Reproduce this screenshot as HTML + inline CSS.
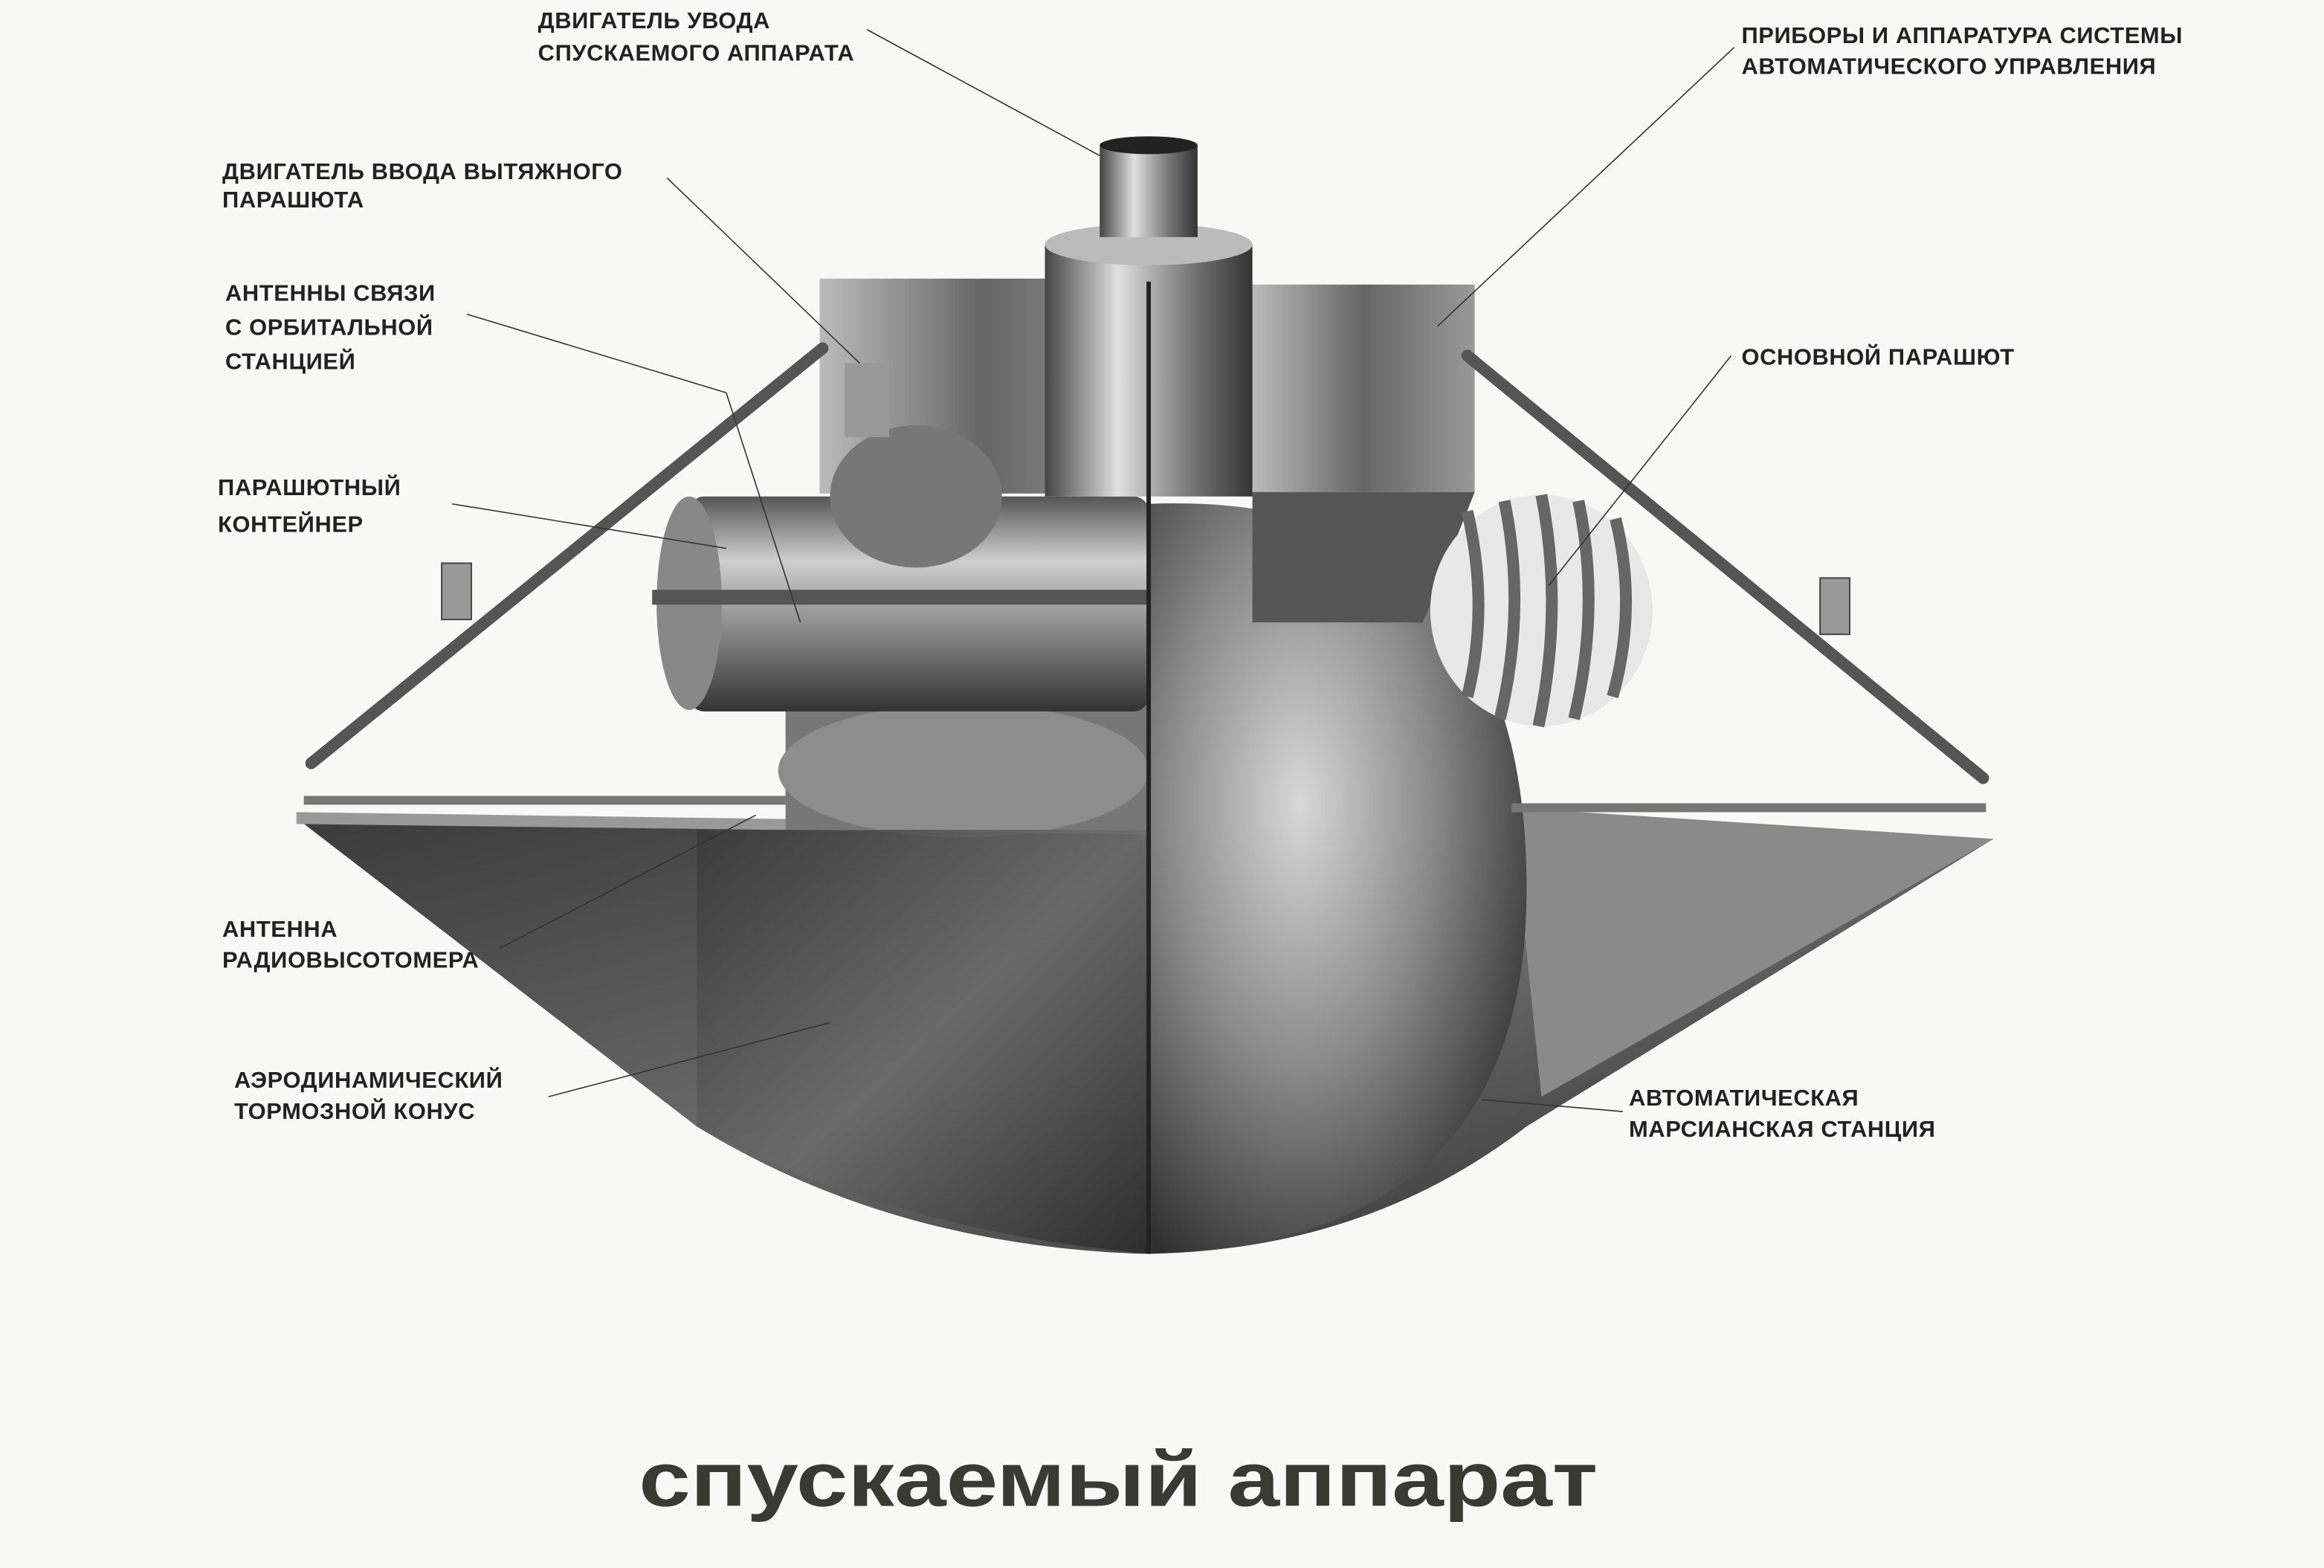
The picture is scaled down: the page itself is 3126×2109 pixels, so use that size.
<!DOCTYPE html>
<html><head><meta charset="utf-8"><style>
html,body{margin:0;padding:0;background:#f8f8f6;}
svg{display:block;}
text{font-family:"Liberation Sans",sans-serif;fill:#222;}
.l{font-size:15.5px;letter-spacing:0.3px;font-weight:bold;}
.ln{stroke:#333;stroke-width:0.8;fill:none;}
</style></head><body>
<svg width="3126" height="2109" viewBox="0 0 1568 1058" preserveAspectRatio="none" xmlns="http://www.w3.org/2000/svg">
<defs>
<linearGradient id="cone" x1="0" y1="0" x2="1" y2="1"><stop offset="0" stop-color="#3a3a3a"/><stop offset="0.5" stop-color="#6a6a6a"/><stop offset="1" stop-color="#2a2a2a"/></linearGradient>
<radialGradient id="sph" cx="0.4" cy="0.4" r="0.7"><stop offset="0" stop-color="#d8d8d8"/><stop offset="0.5" stop-color="#8a8a8a"/><stop offset="1" stop-color="#2f2f2f"/></radialGradient>
<linearGradient id="cyl" x1="0" y1="0" x2="0" y2="1"><stop offset="0" stop-color="#555"/><stop offset="0.3" stop-color="#cfcfcf"/><stop offset="0.7" stop-color="#777"/><stop offset="1" stop-color="#333"/></linearGradient>
<linearGradient id="vcyl" x1="0" y1="0" x2="1" y2="0"><stop offset="0" stop-color="#444"/><stop offset="0.35" stop-color="#e0e0e0"/><stop offset="0.7" stop-color="#777"/><stop offset="1" stop-color="#333"/></linearGradient>
<linearGradient id="box" x1="0" y1="0" x2="1" y2="0"><stop offset="0" stop-color="#bbb"/><stop offset="0.5" stop-color="#666"/><stop offset="1" stop-color="#999"/></linearGradient>
</defs>
<rect width="1568" height="1058" fill="#f8f8f6"/>
<path d="M200,552 L1345,566 L1030,760 Q920,845 770,846 Q600,840 470,760 Z" fill="url(#cone)"/>
<path d="M1020,545 L1345,566 L1040,740 Z" fill="#8a8a8a"/>
<path d="M200,548 L775,556 L775,563 L200,556 Z" fill="#999"/>
<path d="M775,340 Q1030,330 1030,600 Q1030,840 775,846 Z" fill="url(#sph)"/>
<rect x="530" y="470" width="245" height="90" fill="#777"/>
<ellipse cx="650" cy="520" rx="125" ry="45" fill="#8d8d8d"/>
<path d="M470,560 L775,560 L775,846 Q600,830 470,760 Z" fill="url(#cone)" opacity="0.9"/>
<rect x="465" y="335" width="310" height="145" rx="10" fill="url(#cyl)"/>
<ellipse cx="465" cy="407" rx="22" ry="72" fill="#888"/>
<rect x="440" y="398" width="335" height="10" fill="#555"/>
<rect x="553" y="188" width="222" height="145" fill="url(#box)"/>
<rect x="845" y="192" width="150" height="140" fill="url(#box)"/>
<path d="M845,332 L995,332 L960,420 L845,420 Z" fill="#555"/>
<rect x="705" y="165" width="140" height="170" fill="url(#vcyl)"/>
<ellipse cx="775" cy="165" rx="70" ry="14" fill="#bbb"/>
<rect x="742" y="98" width="66" height="62" fill="url(#vcyl)"/>
<ellipse cx="775" cy="98" rx="33" ry="6" fill="#222"/>
<line x1="775" y1="190" x2="775" y2="846" stroke="#222" stroke-width="3"/>
<ellipse cx="618" cy="335" rx="58" ry="48" fill="#777"/>
<rect x="570" y="245" width="30" height="50" fill="#999"/>
<g stroke="#555" stroke-width="8" stroke-linecap="round"><line x1="210" y1="515" x2="555" y2="235"/><line x1="1338" y1="525" x2="990" y2="240"/></g>
<g stroke="#777" stroke-width="6"><line x1="205" y1="540" x2="530" y2="540"/><line x1="1020" y1="545" x2="1340" y2="545"/></g>
<rect x="298" y="380" width="20" height="38" fill="#999" stroke="#444"/>
<rect x="1228" y="390" width="20" height="38" fill="#999" stroke="#444"/>
<ellipse cx="1040" cy="412" rx="75" ry="78" fill="#e8e8e8"/>
<g stroke="#666" stroke-width="8" fill="none"><path d="M990,345 Q1005,410 990,470"/><path d="M1015,338 Q1030,410 1012,485"/><path d="M1040,334 Q1055,410 1038,490"/><path d="M1065,338 Q1080,410 1062,485"/><path d="M1090,350 Q1105,410 1088,470"/></g>
<g class="ln">
<line x1="585" y1="20" x2="742" y2="105"/>
<line x1="450" y1="120" x2="580" y2="245"/>
<line x1="315" y1="212" x2="490" y2="265"/>
<line x1="490" y1="265" x2="540" y2="420"/>
<line x1="305" y1="340" x2="490" y2="370"/>
<line x1="1170" y1="32" x2="970" y2="220"/>
<line x1="1168" y1="240" x2="1045" y2="395"/>
<line x1="337" y1="640" x2="510" y2="550"/>
<line x1="370" y1="740" x2="560" y2="690"/>
<line x1="1095" y1="750" x2="1000" y2="742"/>
</g>
<text class="l" x="363" y="19">ДВИГАТЕЛЬ УВОДА</text>
<text class="l" x="363" y="41">СПУСКАЕМОГО АППАРАТА</text>
<text class="l" x="150" y="121">ДВИГАТЕЛЬ ВВОДА ВЫТЯЖНОГО</text>
<text class="l" x="150" y="140">ПАРАШЮТА</text>
<text class="l" x="152" y="203">АНТЕННЫ СВЯЗИ</text>
<text class="l" x="152" y="226">С ОРБИТАЛЬНОЙ</text>
<text class="l" x="152" y="249">СТАНЦИЕЙ</text>
<text class="l" x="147" y="334">ПАРАШЮТНЫЙ</text>
<text class="l" x="147" y="359">КОНТЕЙНЕР</text>
<text class="l" x="1175" y="29">ПРИБОРЫ И АППАРАТУРА СИСТЕМЫ</text>
<text class="l" x="1175" y="50">АВТОМАТИЧЕСКОГО УПРАВЛЕНИЯ</text>
<text class="l" x="1175" y="246">ОСНОВНОЙ ПАРАШЮТ</text>
<text class="l" x="150" y="632">АНТЕННА</text>
<text class="l" x="150" y="653">РАДИОВЫСОТОМЕРА</text>
<text class="l" x="158" y="734">АЭРОДИНАМИЧЕСКИЙ</text>
<text class="l" x="158" y="755">ТОРМОЗНОЙ КОНУС</text>
<text class="l" x="1099" y="746">АВТОМАТИЧЕСКАЯ</text>
<text class="l" x="1099" y="767">МАРСИАНСКАЯ СТАНЦИЯ</text>
<text x="431" y="1016" font-size="52" font-weight="bold" textLength="647" lengthAdjust="spacingAndGlyphs" style="fill:#3a3a34">спускаемый аппарат</text>
</svg>
</body></html>
